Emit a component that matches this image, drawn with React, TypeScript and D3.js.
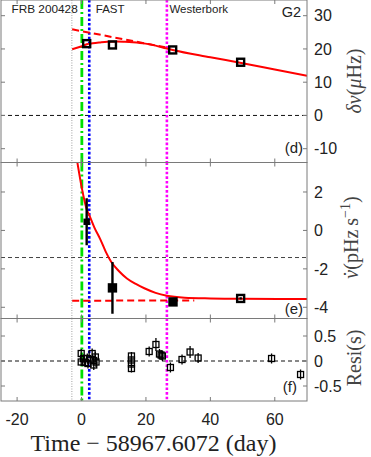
import React, { useEffect, useRef } from "react";
import * as d3 from "d3";

// time axis, days since MJD 58967.6072
const xTicks = [-20, 0, 20, 40, 60];

// vertical event markers (days)
const tGrey = -3.0;
const tFRB = 0.1;
const tFAST = 2.4;
const tWsrt = 26.5;

// panel (d): delta nu (uHz)
const dnuT = [1.6, 9.6, 28.3, 49.4];
const dnuV = [21.6, 21.2, 19.7, 16.0];
const dnuFit: [number, number][] = [
  [-2.9, 19.9], [0.1, 20.8], [1.6, 21.4], [3.5, 21.7], [5.8, 21.95], [8, 22.15], [11, 22.25],
  [13.5, 22.15], [15.9, 22.0], [19.8, 21.6], [23, 21.0], [26.2, 20.2], [28.3, 19.7],
  [40, 17.5], [50, 15.7], [60, 13.8], [70, 11.9],
];
const dnuLin: [number, number][] = [[-2.9, 25.9], [26, 20.5]];
const dTicks = [-10, 0, 10, 20, 30];

// panel (e): nu dot (pHz/s)
const nudT = [1.6, 9.6, 28.4, 49.4];
const nudV = [0.45, -2.99, -3.72, -3.54];
const nudE = [1.22, 1.35, 0.08, 0.06];
const nudFit: [number, number][] = [
  [-1.35, 3.6], [0.1, 2.2], [1.6, 1.1], [2.4, 0.8], [4, 0.15], [5.8, -0.45], [7.5, -1.1],
  [9.2, -1.63], [11.5, -2.1], [14.1, -2.5], [17, -2.8], [19.5, -3.01], [23, -3.25],
  [26.5, -3.4], [32, -3.5], [40, -3.54], [50, -3.56], [70, -3.57],
];
const nudLin: [number, number][] = [[-2.9, -3.66], [35, -3.64]];
const nudRef = -1.41;
const eTicks = [-4, -2, 0, 2];

// panel (f): timing residuals (s)
const resT = [
  -0.1, -0.1, 0.6, 1.2, 1.8, 2.0, 2.8, 3.3, 3.8, 3.8, 4.3, 4.5,
  15.5, 15.5, 15.5, 15.5,
  21.0, 23.1, 24.2, 24.7, 25.1, 27.6, 31.2, 33.7, 36.2, 59.0, 68.0,
];
const resV = [
  0.15, -0.02, 0.05, -0.03, 0.05, -0.05, 0.02, 0.15, 0.01, -0.08, 0.08, -0.02,
  0.1, 0.02, -0.06, -0.15,
  0.19, 0.33, 0.14, 0.12, 0.1, -0.13, 0.03, 0.18, 0.06, 0.05, -0.27,
];
const resE = [
  0.09, 0.08, 0.08, 0.08, 0.1, 0.1, 0.1, 0.1, 0.1, 0.1, 0.1, 0.1,
  0.08, 0.08, 0.08, 0.08,
  0.1, 0.13, 0.1, 0.1, 0.1, 0.1, 0.1, 0.12, 0.1, 0.1, 0.1,
];
const fTicks = [-0.5, 0, 0.5];

const W = 371;
const H = 457;
const L = 1;
const R = 307;
const FRAME = "#7a7a7a";
const INK = "#222";
const SANS = "'Liberation Sans', Arial, sans-serif";
const SERIF = "'Liberation Serif', 'Times New Roman', serif";

const App = () => {
  const ref = useRef<SVGSVGElement>(null);

  useEffect(() => {
    const svg = d3.select(ref.current);
    svg.selectAll("*").remove();

    const x = d3.scaleLinear().domain([-25, 70]).range([L, R]);
    const yD = d3.scaleLinear().domain([-14.15, 34.72]).range([162.5, 0]);
    const yE = d3.scaleLinear().domain([-4.583, 3.535]).range([318.5, 162.5]);
    const yF = d3.scaleLinear().domain([-0.8, 0.85]).range([401, 318.5]);

    const panels = [
      { id: "d", y: yD, ticks: dTicks },
      { id: "e", y: yE, ticks: eTicks },
      { id: "f", y: yF, ticks: fTicks },
    ];

    svg.append("rect").attr("width", W).attr("height", H).attr("fill", "white");

    const defs = svg.append("defs");
    panels.forEach(p => {
      const [b, t] = p.y.range();
      defs.append("clipPath").attr("id", "clip-" + p.id)
        .append("rect").attr("x", L).attr("y", t).attr("width", R - L).attr("height", b - t);
    });

    const gp: Record<string, d3.Selection<SVGGElement, unknown, null, undefined>> = {};
    panels.forEach(p => {
      gp[p.id] = svg.append("g").attr("clip-path", `url(#clip-${p.id})`);
    });

    const line = (ys: d3.ScaleLinear<number, number>) =>
      d3.line<[number, number]>().x(d => x(d[0])).y(d => ys(d[1])).curve(d3.curveMonotoneX);

    // horizontal reference lines
    gp.d.append("line").attr("x1", L).attr("x2", R).attr("y1", yD(0)).attr("y2", yD(0))
      .attr("stroke", "#111").attr("stroke-width", 1).attr("stroke-dasharray", "4,3");
    gp.e.append("line").attr("x1", L).attr("x2", R).attr("y1", yE(nudRef)).attr("y2", yE(nudRef))
      .attr("stroke", "#444").attr("stroke-width", 1).attr("stroke-dasharray", "4,3");
    gp.f.append("line").attr("x1", L).attr("x2", R).attr("y1", yF(0)).attr("y2", yF(0))
      .attr("stroke", "#111").attr("stroke-width", 1).attr("stroke-dasharray", "4,3");

    // event lines in every panel
    panels.forEach(p => {
      const g = gp[p.id];
      const [b, t] = p.y.range();
      const vline = (tv: number, color: string, w: number, dash: string) =>
        g.append("line").attr("x1", x(tv)).attr("x2", x(tv)).attr("y1", t).attr("y2", b)
          .attr("stroke", color).attr("stroke-width", w).attr("stroke-dasharray", dash);
      vline(tGrey, "#8a8a8a", 0.8, "1,1.5");
      vline(tFRB, "#00e000", 2.8, "9,3,2,3");
      vline(tFAST, "#0000ff", 2.6, "2.6,2");
      vline(tWsrt, "#ff00ff", 2.6, "2.6,2");
    });

    // model curves
    gp.d.append("path").attr("d", line(yD)(dnuLin)).attr("fill", "none")
      .attr("stroke", "#ff0000").attr("stroke-width", 2).attr("stroke-dasharray", "7,4");
    gp.d.append("path").attr("d", line(yD)(dnuFit)).attr("fill", "none")
      .attr("stroke", "#ff0000").attr("stroke-width", 2);
    gp.e.append("path").attr("d", line(yE)(nudLin)).attr("fill", "none")
      .attr("stroke", "#ff0000").attr("stroke-width", 2).attr("stroke-dasharray", "7,4");
    gp.e.append("path").attr("d", line(yE)(nudFit)).attr("fill", "none")
      .attr("stroke", "#ff0000").attr("stroke-width", 2);

    // panel (d) points
    dnuT.forEach((t, i) => {
      gp.d.append("rect").attr("x", x(t) - 3.5).attr("y", yD(dnuV[i]) - 3.5)
        .attr("width", 7).attr("height", 7).attr("fill", "none")
        .attr("stroke", "black").attr("stroke-width", 2.4);
    });

    // panel (e) points with errors
    nudT.forEach((t, i) => {
      gp.e.append("line").attr("x1", x(t)).attr("x2", x(t))
        .attr("y1", yE(nudV[i] - nudE[i])).attr("y2", yE(nudV[i] + nudE[i]))
        .attr("stroke", "black").attr("stroke-width", 2.4);
      const s = i === 0 ? 4 : 7;
      gp.e.append("rect").attr("x", x(t) - s / 2).attr("y", yE(nudV[i]) - s / 2)
        .attr("width", s).attr("height", s).attr("fill", i === 3 ? "none" : "black")
        .attr("stroke", "black").attr("stroke-width", 2.4);
    });

    // panel (f) residuals
    resT.forEach((t, i) => {
      gp.f.append("line").attr("x1", x(t)).attr("x2", x(t))
        .attr("y1", yF(resV[i] - resE[i])).attr("y2", yF(resV[i] + resE[i]))
        .attr("stroke", "black").attr("stroke-width", 1.3);
      gp.f.append("rect").attr("x", x(t) - 3).attr("y", yF(resV[i]) - 3)
        .attr("width", 6).attr("height", 6).attr("fill", "none")
        .attr("stroke", "black").attr("stroke-width", 1.3);
    });

    // frames, ticks, tick labels
    panels.forEach(p => {
      const [b, t] = p.y.range();
      const g = svg.append("g");
      g.append("rect").attr("x", L).attr("y", t).attr("width", R - L).attr("height", b - t)
        .attr("fill", "none").attr("stroke", FRAME).attr("stroke-width", 1);
      xTicks.forEach(v => {
        g.append("line").attr("x1", x(v)).attr("x2", x(v)).attr("y1", b).attr("y2", b - 4)
          .attr("stroke", FRAME);
        g.append("line").attr("x1", x(v)).attr("x2", x(v)).attr("y1", t).attr("y2", t + 4)
          .attr("stroke", FRAME);
      });
      p.ticks.forEach(v => {
        g.append("line").attr("x1", L).attr("x2", L + 4).attr("y1", p.y(v)).attr("y2", p.y(v))
          .attr("stroke", FRAME);
        g.append("line").attr("x1", R).attr("x2", R - 4).attr("y1", p.y(v)).attr("y2", p.y(v))
          .attr("stroke", FRAME);
        g.append("text").attr("x", R + 7).attr("y", p.y(v)).attr("dy", "0.36em")
          .attr("font-family", SANS).attr("font-size", 16).attr("fill", INK)
          .text(String(v));
      });
    });

    xTicks.forEach(v => {
      svg.append("text").attr("x", x(v)).attr("y", 425).attr("text-anchor", "middle")
        .attr("font-family", SANS).attr("font-size", 16).attr("fill", INK).text(String(v));
    });

    // annotations
    const note = (tx: number, ty: number, s: string, size: number, anchor = "start") =>
      svg.append("text").attr("x", tx).attr("y", ty).attr("text-anchor", anchor)
        .attr("font-family", SANS).attr("font-size", size).attr("fill", INK).text(s);
    note(11.5, 13.3, "FRB 200428", 11.8);
    note(x(tFAST) + 6.5, 13.3, "FAST", 11.5);
    note(x(tWsrt) + 2.5, 13.3, "Westerbork", 11.5);
    note(301, 17, "G2", 14.5, "end");
    note(303, 153, "(d)", 15, "end");
    note(303, 313.5, "(e)", 15, "end");
    note(297, 392, "(f)", 15, "end");

    // axis labels
    svg.append("text").attr("x", 153.5).attr("y", 451).attr("text-anchor", "middle")
      .attr("font-family", SERIF).attr("font-size", 24).attr("fill", INK)
      .text("Time \u2212 58967.6072 (day)");

    const yl1 = svg.append("text").attr("transform", "translate(361,81) rotate(-90)")
      .attr("text-anchor", "middle").attr("font-family", SERIF).attr("font-size", 20).attr("fill", "#444");
    yl1.append("tspan").attr("font-style", "italic").text("\u03b4\u03bd");
    yl1.append("tspan").text("(");
    yl1.append("tspan").attr("font-style", "italic").text("\u03bc");
    yl1.append("tspan").text("Hz)");

    const yl2 = svg.append("text").attr("transform", "translate(358,237.5) rotate(-90)")
      .attr("text-anchor", "middle").attr("font-family", SERIF).attr("font-size", 20).attr("fill", "#444");
    yl2.append("tspan").attr("font-style", "italic").text("\u03bd");
    yl2.append("tspan").attr("dx", -7.5).text("\u02d9");
    yl2.append("tspan").attr("dx", 1).text("(pHz\u2009s");
    yl2.append("tspan").attr("font-size", 14).attr("dy", -8).text("\u22121");
    yl2.append("tspan").attr("dy", 8).text(")");

    svg.append("text").attr("transform", "translate(361,358) rotate(-90)")
      .attr("text-anchor", "middle").attr("font-family", SERIF).attr("font-size", 20).attr("fill", "#444")
      .text("Resi(s)");
  }, []);

  return (
    <svg ref={ref} width={W} height={H}
      style={{ position: "absolute", left: 0, top: 0, display: "block" }} />
  );
};

export default App;
